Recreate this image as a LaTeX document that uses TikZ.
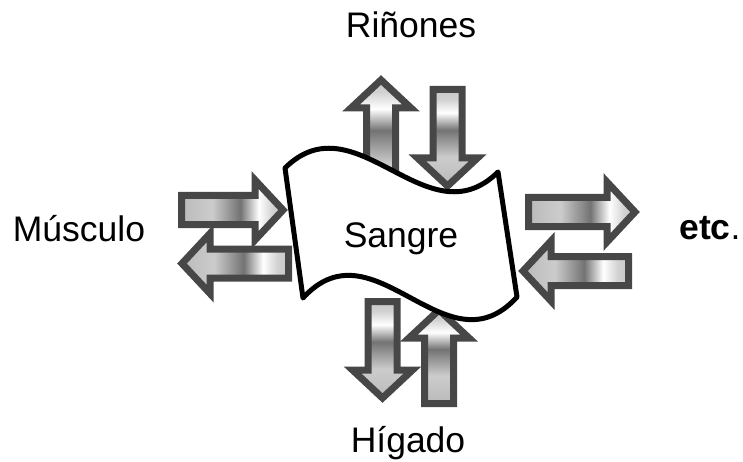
\documentclass[tikz,border=0pt]{standalone}
\usepackage{fontspec}
\setmainfont{Liberation Sans}
\pgfdeclarehorizontalshading{metal}{100bp}{color(0bp)=(black!27); color(25bp)=(black!27); color(40bp)=(black!20); color(54bp)=(black!55); color(63bp)=(white); color(70bp)=(black!18); color(75bp)=(black!22); color(100bp)=(black!22)}
\tikzset{
  fatarrow/.style={shading=metal, draw=black!72, line width=7pt, line join=miter},
  lbl/.style={anchor=base, inner sep=0pt, font=\fontsize{35.5}{40}\selectfont},
  banner/.style={fill=white, draw=black, line width=5pt, line join=round}
}
\begin{document}
\begin{tikzpicture}[x=1pt,y=-1pt]
\useasboundingbox (0,0) rectangle (743,462);
\def \sw{14.5};
\def \hw{30};
\def \hl{28};
% vertical arrows: top pair, then bottom pair
\foreach \xc/\ya/\yb/\dir in {381/200/80/-1, 447.5/89.5/186/1, 382.5/301.5/398/1, 439/403.5/310/-1}{
\shadedraw[fatarrow, shading angle=90] ({\xc-\sw},\ya) -- ({\xc-\sw},{\yb-(\dir)*\hl}) -- ({\xc-\hw},{\yb-(\dir)*\hl}) -- (\xc,\yb) -- ({\xc+\hw},{\yb-(\dir)*\hl}) -- ({\xc+\sw},{\yb-(\dir)*\hl}) -- ({\xc+\sw},\ya) -- cycle;}
% horizontal arrows: left pair, then right pair
\foreach \xa/\xb/\yc/\dir in {181.5/283/210/1, 288.5/182/263.5/-1, 528.5/635/212/1, 628.5/523/271/-1}{
\shadedraw[fatarrow] (\xa,{\yc-\sw}) -- ({\xb-(\dir)*\hl},{\yc-\sw}) -- ({\xb-(\dir)*\hl},{\yc-\hw}) -- (\xb,\yc) -- ({\xb-(\dir)*\hl},{\yc+\hw}) -- ({\xb-(\dir)*\hl},{\yc+\sw}) -- (\xa,{\yc+\sw}) -- cycle;}
% the banner
\draw[banner] (285,168) .. controls (356,98) and (427,242) .. (498,172) -- (517,297) .. controls (446,375) and (374,220) .. (303,298) -- cycle;
\node[lbl] (sangre) at (401,247) {Sangre};
\node[lbl] (rin) at (411,38) {Riñones};
\node[lbl] (mus) at (79,241) {Músculo};
\node[lbl] (etc) at (710,240) {\textbf{etc}.};
\node[lbl] (hig) at (408,452) {Hígado};
\end{tikzpicture}
\end{document}
